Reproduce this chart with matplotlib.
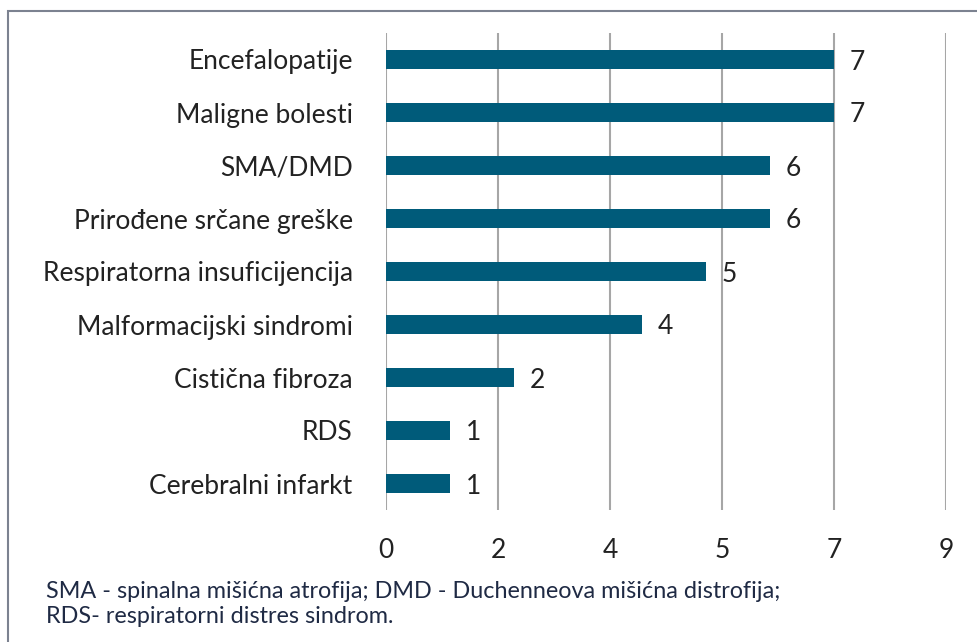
import numpy as np
import matplotlib
matplotlib.use('Agg')
import matplotlib.pyplot as plt
from matplotlib.patches import Rectangle

categories = ['Encefalopatije', 'Maligne bolesti', 'SMA/DMD',
              'Prirođene srčane greške', 'Respiratorna insuficijencija',
              'Malformacijski sindromi', 'Cistična fibroza', 'RDS',
              'Cerebralni infarkt']
values = [7, 7, 6, 6, 5, 4, 2, 1, 1]
tick_pos = [0, 1.75, 3.5, 5.25, 7, 8.75]
tick_labels = ['0', '2', '4', '5', '7', '9']
note = ('SMA - spinalna mišićna atrofija; DMD - Duchenneova mišićna distrofija;\n'
        'RDS- respiratorni distres sindrom.')

plt.rcParams['font.family'] = ['Lato', 'DejaVu Sans']

bar_color = '#005b7a'
text_color = '#222222'

fig = plt.figure(figsize=(9.78, 6.42), dpi=100)
ax = fig.add_axes([386 / 978, 1 - 510 / 642, 560 / 978, 477 / 642])

y = np.arange(len(categories))
ax.barh(y, values, height=0.34, color=bar_color, zorder=3)
for yi, v in zip(y, values):
    ax.text(v + 0.25, yi, str(v), va='center_baseline', ha='left',
            fontsize=19, color=text_color)

ax.set_xlim(0, 8.75)
ax.set_ylim(len(categories) - 0.5, -0.5)
ax.set_xticks(tick_pos)
ax.set_xticklabels(tick_labels)
ax.set_yticks(y)
ax.set_yticklabels(categories, va='center_baseline')
ax.tick_params(axis='both', length=0, labelsize=19, colors=text_color)
ax.tick_params(axis='y', pad=24)
ax.tick_params(axis='x', pad=20)
ax.grid(axis='x', color='#a6a6a6', linewidth=1.5, zorder=0)
for s in ax.spines.values():
    s.set_visible(False)

# outer frame (right and bottom edges fall outside the image)
fig.patches.append(Rectangle((8 / 978, -0.05), 1.1, 1 - 11 / 642 + 0.05,
                             transform=fig.transFigure, fill=False,
                             edgecolor='#7c8290', linewidth=1.5))

fig.text(46 / 978, 1 - 604 / 642, note, fontsize=16.8, color='#1f2a44',
         va='center', ha='left', linespacing=1.22)

fig.savefig('out.png', dpi=100)
